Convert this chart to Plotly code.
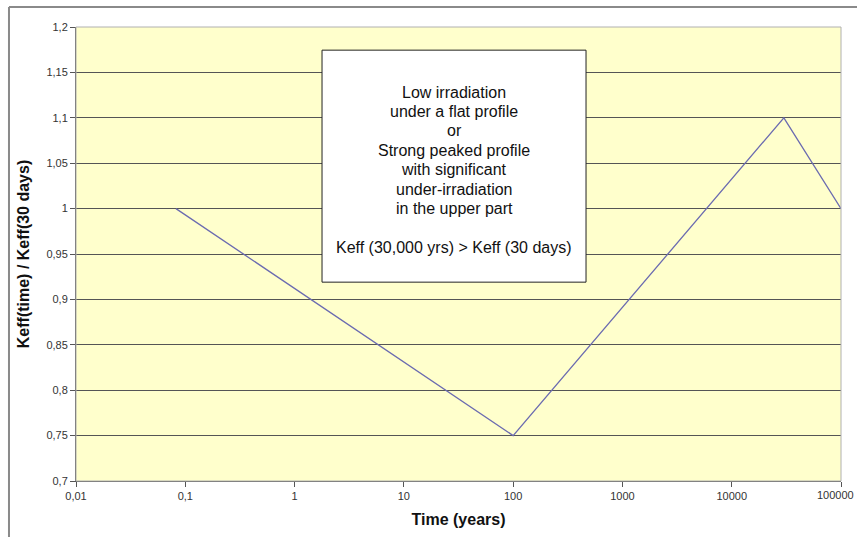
import plotly.graph_objects as go

# Keff ratio versus decay time (log scale)
time_years = [30 / 365.25, 100, 30000, 100000]
keff_ratio = [1.0, 0.75, 1.1, 1.0]

x_tick_vals = [0.01, 0.1, 1, 10, 100, 1000, 10000, 100000]
x_tick_text = ["0,01", "0,1", "1", "10", "100", "1000", "10000", "100000"]
y_tick_vals = [0.7, 0.75, 0.8, 0.85, 0.9, 0.95, 1.0, 1.05, 1.1, 1.15, 1.2]
y_tick_text = ["0,7", "0,75", "0,8", "0,85", "0,9", "0,95", "1", "1,05", "1,1", "1,15", "1,2"]

box_lines = [
    "Low irradiation",
    "under a flat profile",
    "or",
    "Strong peaked profile",
    "with significant",
    "under-irradiation",
    "in the upper part",
    "",
    "Keff (30,000 yrs) > Keff (30 days)",
]

FONT = "Arial, Liberation Sans, sans-serif"

# plot area in pixels: left 76, right 841, top 27, bottom 481
PLOT_W = 765.0
PLOT_H = 454.0

fig = go.Figure()
fig.add_trace(go.Scatter(
    x=time_years, y=keff_ratio, mode="lines",
    line=dict(color="#6b6bb0", width=1.3),
    showlegend=False, hoverinfo="skip",
))

# the last tick label sits at the right edge; it is drawn separately so it stays inside the page
axis_tick_text = x_tick_text[:-1] + [""]

fig.update_layout(
    width=857, height=537,
    margin=dict(l=76, r=16, t=27, b=56),
    paper_bgcolor="white",
    plot_bgcolor="#ffffcc",
    font=dict(family=FONT, size=11, color="#333333"),
    xaxis=dict(
        type="log", range=[-2, 5],
        tickvals=x_tick_vals, ticktext=axis_tick_text,
        ticks="outside", ticklen=5, tickcolor="#555555",
        automargin=False,
        showline=True, linecolor="#555555", linewidth=1,
        showgrid=False, zeroline=False,
        title=dict(text="<b>Time (years)</b>", font=dict(family=FONT, size=16, color="#111111"), standoff=12),
    ),
    yaxis=dict(
        range=[0.7, 1.2],
        tickvals=y_tick_vals, ticktext=y_tick_text,
        ticks="outside", ticklen=5, tickcolor="#555555",
        automargin=False,
        showline=True, linecolor="#555555", linewidth=1,
        showgrid=True, gridcolor="#555555", gridwidth=1,
        zeroline=False,
        title=dict(text="<b>Keff(time) / Keff(30 days)</b>", font=dict(family=FONT, size=16, color="#111111"), standoff=12),
    ),
)

fig.add_annotation(
    xref="paper", yref="paper", x=1 + 15 / PLOT_W, y=0,
    text=x_tick_text[-1], showarrow=False, xanchor="right", yanchor="top",
    yshift=-6, font=dict(family=FONT, size=11, color="#333333"),
)

# plot-area border (light grey on top and right)
fig.add_shape(type="rect", xref="paper", yref="paper", x0=0, x1=1, y0=0, y1=1,
              line=dict(color="#b0b0b0", width=1), layer="above")
# outer chart frame (top and left edges)
fig.add_shape(type="line", xref="paper", yref="paper", x0=-0.0876, x1=1.05, y0=1.044, y1=1.044,
              line=dict(color="#8a8a8a", width=2))
fig.add_shape(type="line", xref="paper", yref="paper", x0=-0.0876, x1=-0.0876, y0=1.044, y1=-0.15,
              line=dict(color="#8a8a8a", width=2))

# text box
box_x0, box_x1 = 0.3216, 0.6667
fig.add_shape(type="rect", xref="paper", yref="paper", x0=box_x0, x1=box_x1, y0=0.438, y1=0.949,
              line=dict(color="#222222", width=1), fillcolor="white", layer="above")
first_line_px = 92.0
line_step_px = 19.4
for i, line in enumerate(box_lines):
    if not line:
        continue
    py = first_line_px + i * line_step_px
    fig.add_annotation(
        xref="paper", yref="paper", x=(box_x0 + box_x1) / 2, y=(481 - py) / PLOT_H,
        text=line, showarrow=False, xanchor="center", yanchor="middle",
        font=dict(family=FONT, size=16, color="#111111"),
    )

fig.write_html("out.html")
